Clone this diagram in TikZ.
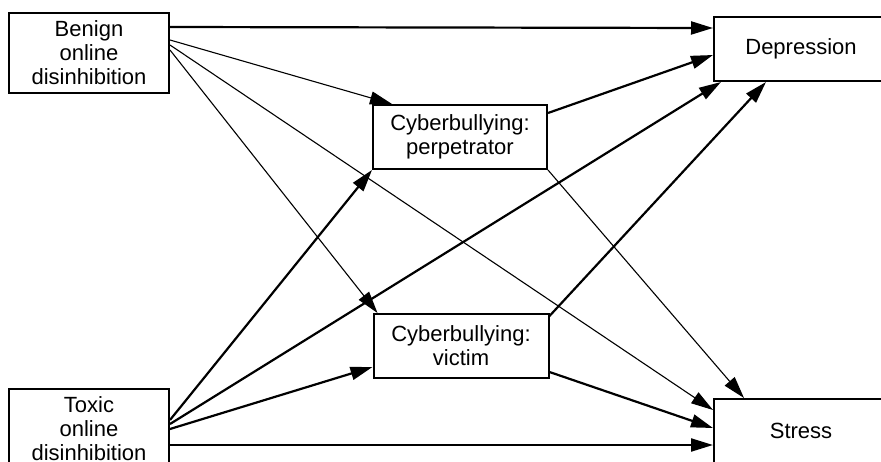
\documentclass[tikz,border=0pt]{standalone}
\usepackage{fontspec}
\setmainfont{Liberation Sans}
\usetikzlibrary{arrows.meta,calc}

\begin{document}
\begin{tikzpicture}[x=1pt,y=-1pt,
    box/.style={draw,line width=2pt,align=center,inner sep=0pt,
        font=\fontsize{22}{24}\selectfont},
    strong/.style={line width=2.2pt,-{Triangle[length=22pt,width=13pt]}},
    weak/.style={line width=1.1pt,-{Triangle[length=22pt,width=13pt]}}]
        \useasboundingbox (0,0) rectangle (881,461);

        \node[box,minimum width=160,minimum height=80] (benign) at (89,53) {Benign\\online\\disinhibition};
        \node[box,minimum width=160,minimum height=80] (toxic) at (89,429) {Toxic\\online\\disinhibition};
        \node[box,minimum width=174,minimum height=64] (perp) at (460,137) {Cyberbullying:\\perpetrator};
        \node[box,minimum width=175,minimum height=64] (victim) at (461,346) {Cyberbullying:\\victim};
        \node[box,minimum width=174,minimum height=64] (dep) at (801,49) {Depression};
        \node[box,minimum width=174,minimum height=64] (stress) at (801,431) {Stress};

        \draw[strong] ($(benign.east)+(0,-26)$) -- ($(dep.west)+(0,-21)$);
        \draw[weak] ($(benign.east)+(0,-13)$) -- ($(perp.north west)+(20,0)$);
        \draw[weak] ($(benign.east)+(0,-8)$) -- ($(stress.west)+(0,-21)$);
        \draw[weak] ($(benign.east)+(0,-3)$) -- ($(victim.north west)+(5,0)$);

        \draw[strong] ($(perp.east)+(0,-24)$) -- ($(dep.west)+(0,6)$);
        \draw[weak] (perp.south east) -- ($(stress.north west)+(31,0)$);

        \draw[strong] ($(toxic.east)+(0,-9)$) -- (perp.south west);
        \draw[strong] ($(toxic.east)+(0,-5)$) -- ($(dep.south west)+(8,0)$);
        \draw[strong] (toxic.east) -- ($(victim.west)+(0,21)$);
        \draw[strong] ($(toxic.east)+(0,16)$) -- ($(stress.west)+(0,14)$);

        \draw[strong] ($(victim.east)+(0,-30)$) -- ($(dep.south west)+(53,0)$);
        \draw[strong] ($(victim.east)+(0,26)$) -- ($(stress.west)+(0,-3)$);
    \end{tikzpicture}
\end{document}
